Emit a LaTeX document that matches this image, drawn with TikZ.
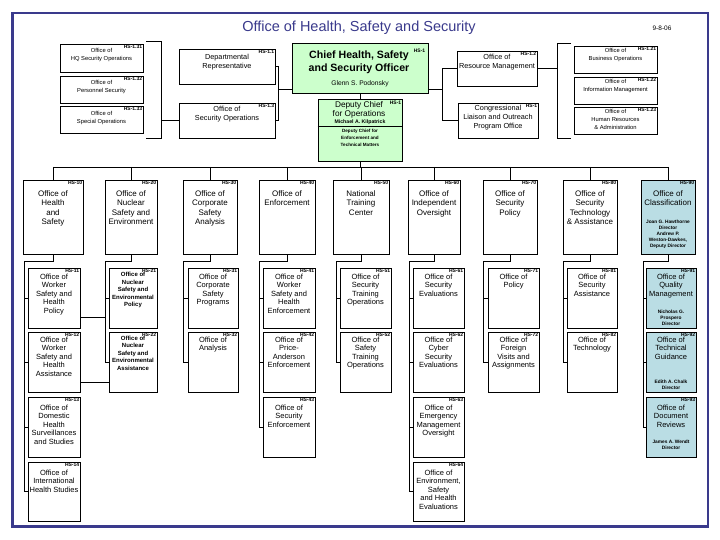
\documentclass[tikz,border=0pt]{standalone}
\usepackage{fontspec}
\setmainfont{Liberation Sans}
\usetikzlibrary{fit}
\definecolor{navy}{HTML}{3A3A8C}
\definecolor{lgreen}{HTML}{CCFFCC}
\definecolor{lblue}{HTML}{BADDE4}
\tikzset{
 box/.style={draw=black, line width=0.8pt, inner sep=0pt, fill=white},
 gbox/.style={box, fill=lgreen},
 bbox/.style={box, fill=lblue},
 hs/.style={anchor=north east, inner sep=1pt, font=\fontsize{5}{5}\selectfont\bfseries},
 btxt/.style={anchor=north, inner sep=0pt, align=center},
 f8/.style={font=\fontsize{8}{9.3}\selectfont},
 f75/.style={font=\fontsize{7.5}{8.5}\selectfont},
 fmd/.style={font=\fontsize{7.3}{9}\selectfont},
 fsm/.style={font=\fontsize{5.8}{8}\selectfont},
 fsb/.style={font=\fontsize{6}{7.5}\selectfont\bfseries},
 fnm/.style={font=\fontsize{4.8}{6}\selectfont\bfseries},
 conn/.style={draw=black, line width=0.8pt},
}
\newcommand{\orgbox}[8][box]{%
  \node[#1,fit={(#3) (#4)}] (#2) {};
  \node[hs] at (#2.north east) {#5};
  \node[btxt,#6] at ([yshift=-#7]#2.north) {#8};}
\begin{document}
\begin{tikzpicture}[x=1pt,y=-1pt]
\useasboundingbox (0,0) rectangle (720,540);
\fill[white] (0,0) rectangle (720,540);
\draw[navy, line width=2.5pt] (12.5,13) rectangle (708,526.5);
\node[font=\fontsize{14.5}{16}\selectfont, text=navy] (title) at (359,28) {Office of Health, Safety and Security};
\node[font=\fontsize{6.5}{7}\selectfont] (date) at (662,28) {9-8-06};

% chief and deputy
\node[gbox, fit={(292,43) (428,93)}] (chief) {};
\node[btxt, font=\fontsize{10.6}{13}\selectfont\bfseries] (chieft) at ([xshift=-1pt,yshift=-8.5pt]chief.north) {Chief Health, Safety\\and Security Officer};
\node[font=\fontsize{6.7}{7}\selectfont, inner sep=0pt] (chiefn) at ([yshift=-41pt]chief.north) {Glenn S. Podonsky};
\node[hs] (chiefhs) at ([xshift=-2pt,yshift=-5pt]chief.north east) {HS-1};

\node[gbox, fit={(318,99) (402,161)}] (dep) {};
\node[hs] (dephs) at ([yshift=-1pt]dep.north east) {HS-1};
\node[btxt, font=\fontsize{8.3}{9.6}\selectfont] (dept) at ([xshift=-1pt,yshift=-2.5pt]dep.north) {Deputy Chief\\for Operations};
\node[font=\fontsize{5.2}{6}\selectfont\bfseries, inner sep=0pt] (depn) at ([yshift=-23.5pt]dep.north) {Michael A. Kilpatrick};
\draw[conn] ([yshift=-28pt]dep.north west) -- ([yshift=-28pt]dep.north east);
\node[btxt, font=\fontsize{4.6}{7}\selectfont\bfseries] (dept2) at ([yshift=-30pt]dep.north) {Deputy Chief for\\Enforcement and\\Technical Matters};

% top-left group
\orgbox{hq1}{60,44}{143,72}{HS-1.31}{fsm}{4.5pt}{Office of\\HQ Security Operations}
\orgbox{hq2}{60,76}{143,103}{HS-1.32}{fsm}{4.5pt}{Office of\\Personnel Security}
\orgbox{hq3}{60,106}{143,133}{HS-1.33}{fsm}{5pt}{Office of\\Special Operations}
\orgbox{dr}{179,49}{275,84}{HS-1.1}{fmd}{5.5pt}{Departmental\\Representative}
\orgbox{oso}{179,103}{275,138}{HS-1.3}{fmd}{3.5pt}{Office of\\Security Operations}

% top-right group
\orgbox{rm}{457,51}{537,86}{HS-1.2}{fmd}{3.5pt}{Office of\\Resource Management}
\orgbox{cl}{458,103}{538,138}{HS-1}{fmd}{2.5pt}{Congressional\\Liaison and Outreach\\Program Office}
\orgbox{bo}{574,46}{657,73}{HS-1.21}{fsm}{2.5pt}{Office of\\Business Operations}
\orgbox{im}{574,77}{657,104}{HS-1.22}{fsm}{2.5pt}{Office of\\Information Management}
\orgbox{hr}{574,107}{657,134}{HS-1.23}{fsm}{2.5pt}{Office of\\Human Resources\\\& Administration}

% top connectors
\coordinate (lbt) at (146,41); \coordinate (lbb) at (146,138); \coordinate (lbx) at (161,41);
\draw[conn] (lbt) -- (lbx) -- (lbx |- lbb) -- (lbb);
\draw[conn] (lbx |- oso.west) -- (oso.west);
\coordinate (lj) at (278,89);
\draw[conn] (dr.east) -| (lj);
\draw[conn] (oso.east) -| (lj);
\draw[conn] (lj) -- (lj -| chief.west);
\coordinate (rj) at (442,89);
\draw[conn] (rj -| chief.east) -- (rj);
\draw[conn] (rm.west) -| (rj);
\draw[conn] (cl.west) -| (rj);
\coordinate (rbt) at (571,43); \coordinate (rbb) at (571,138); \coordinate (rbx) at (557,43);
\draw[conn] (rbt) -- (rbx) -- (rbx |- rbb) -- (rbb);
\draw[conn] (rm.east) -- (rm.east -| rbx);
\draw[conn] (chief.south) -- (dep.north);

% first level offices
\orgbox{c1}{23,180}{83,254}{HS-10}{f8}{11pt}{Office of\\Health\\and\\Safety}
\orgbox{c2}{105,180}{157,254}{HS-20}{f8}{11pt}{Office of\\Nuclear\\Safety and\\Environment}
\orgbox{c3}{183,180}{237,254}{HS-30}{f8}{11pt}{Office of\\Corporate\\Safety\\Analysis}
\orgbox{c4}{259,180}{315,254}{HS-40}{f8}{11pt}{Office of\\Enforcement}
\orgbox{c5}{333,180}{389,254}{HS-50}{f8}{11pt}{National\\Training\\Center}
\orgbox{c6}{408,180}{460,254}{HS-60}{f8}{11pt}{Office of\\Independent\\Oversight}
\orgbox{c7}{483,180}{537,254}{HS-70}{f8}{11pt}{Office of\\Security\\Policy}
\orgbox{c8}{563,180}{617,254}{HS-80}{f8}{11pt}{Office of\\Security\\Technology\\\& Assistance}
\orgbox[bbox]{c9}{641,180}{695,254}{HS-90}{f8}{11pt}{Office of\\Classification}
\node[btxt, fnm] (c9n) at ([yshift=-40pt]c9.north) {Joan G. Hawthorne\\Director\\Andrew P.\\Weston-Dawkes,\\Deputy Director};

\coordinate (bus) at (360,167);
\draw[conn] (dep.south) -- (bus);
\draw[conn] (bus -| c1.north) -- (bus -| c9.north);
\foreach \i in {1,...,9} \draw[conn] (bus -| c\i.north) -- (c\i.north);

% row 2
\orgbox{c11}{28,268}{80,328}{HS-11}{f75}{6pt}{Office of\\Worker\\Safety and\\Health\\Policy}
\orgbox{c21}{109,268}{157,328}{HS-21}{fsb}{4.5pt}{Office of\\Nuclear\\Safety and\\Environmental\\Policy}
\orgbox{c31}{188,268}{238,328}{HS-31}{f75}{6pt}{Office of\\Corporate\\Safety\\Programs}
\orgbox{c41}{263,268}{315,328}{HS-41}{f75}{6pt}{Office of\\Worker\\Safety and\\Health\\Enforcement}
\orgbox{c51}{340,268}{391,328}{HS-51}{f75}{6pt}{Office of\\Security\\Training\\Operations}
\orgbox{c61}{413,268}{464,328}{HS-61}{f75}{6pt}{Office of\\Security\\Evaluations}
\orgbox{c71}{488,268}{539,328}{HS-71}{f75}{6pt}{Office of\\Policy}
\orgbox{c81}{567,268}{617,328}{HS-81}{f75}{6pt}{Office of\\Security\\Assistance}
\orgbox[bbox]{c91}{646,268}{696,328}{HS-91}{f75}{6pt}{Office of\\Quality\\Management}
\node[btxt, fnm] (c91n) at ([yshift=-42pt]c91.north) {Nicholas G.\\Prospero\\Director};

% row 3
\orgbox{c12}{28,332}{80,392}{HS-12}{f75}{5pt}{Office of\\Worker\\Safety and\\Health\\Assistance}
\orgbox{c22}{109,332}{157,392}{HS-22}{fsb}{4pt}{Office of\\Nuclear\\Safety and\\Environmental\\Assistance}
\orgbox{c32}{188,332}{238,392}{HS-32}{f75}{5pt}{Office of\\Analysis}
\orgbox{c42}{263,332}{315,392}{HS-42}{f75}{5pt}{Office of\\Price-\\Anderson\\Enforcement}
\orgbox{c52}{340,332}{391,392}{HS-52}{f75}{5pt}{Office of\\Safety\\Training\\Operations}
\orgbox{c62}{413,332}{464,392}{HS-62}{f75}{5pt}{Office of\\Cyber\\Security\\Evaluations}
\orgbox{c72}{488,332}{539,392}{HS-72}{f75}{5pt}{Office of\\Foreign\\Visits and\\Assignments}
\orgbox{c82}{567,332}{617,392}{HS-82}{f75}{5pt}{Office of\\Technology}
\orgbox[bbox]{c92}{646,332}{696,392}{HS-92}{f75}{5pt}{Office of\\Technical\\Guidance}
\node[btxt, fnm] (c92n) at ([yshift=-48.5pt]c92.north) {Edith A. Chalk\\Director};

% row 4
\orgbox{c13}{28,397}{80,457}{HS-13}{f75}{8pt}{Office of\\Domestic\\Health\\Surveillances\\and Studies}
\orgbox{c43}{263,397}{315,457}{HS-43}{f75}{8pt}{Office of\\Security\\Enforcement}
\orgbox{c63}{413,397}{464,457}{HS-63}{f75}{8pt}{Office of\\Emergency\\Management\\Oversight}
\orgbox[bbox]{c93}{646,397}{696,457}{HS-93}{f75}{8pt}{Office of\\Document\\Reviews}
\node[btxt, fnm] (c93n) at ([yshift=-43.5pt]c93.north) {James A. Wendt\\Director};

% row 5
\orgbox{c14}{28,462}{80,521}{HS-14}{f75}{8pt}{Office of\\International\\Health Studies}
\orgbox{c64}{413,462}{464,521}{HS-64}{f75}{8pt}{Office of\\Environment,\\Safety\\and Health\\Evaluations}

% spines
\coordinate (s1) at (24,261);
\coordinate (s2) at (105,261);
\coordinate (s3) at (183,261);
\coordinate (s4) at (259,261);
\coordinate (s5) at (336,261);
\coordinate (s6) at (409,261);
\coordinate (s7) at (483,261);
\coordinate (s8) at (563,261);
\coordinate (s9) at (643,261);
\foreach \c/\last in {1/4,2/2,3/2,4/3,5/2,6/4,7/2,8/2,9/3} {
  \draw[conn] (c\c.south) |- (s\c) -- (s\c |- c\c\last.west);
}
\foreach \c/\r in {1/1,1/2,1/3,1/4,2/1,2/2,3/1,3/2,4/1,4/2,4/3,5/1,5/2,6/1,6/2,6/3,6/4,7/1,7/2,8/1,8/2,9/1,9/2,9/3} {
  \draw[conn] (s\c |- c\c\r.west) -- (c\c\r.west);
}
% cross links
\coordinate (xa) at ([yshift=-19pt]c11.east);
\draw[conn] (xa) -- (xa -| s2);
\coordinate (xb) at ([yshift=-20pt]c12.east);
\draw[conn] (xb) -- (xb -| c22.west);
\end{tikzpicture}
\end{document}
